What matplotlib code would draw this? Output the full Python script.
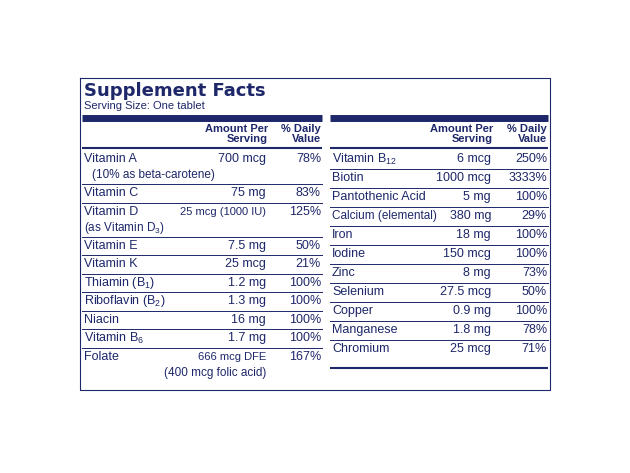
import matplotlib.pyplot as plt

plt.rcParams.update({
    "mathtext.fontset": "custom",
    "mathtext.rm": "Liberation Sans",
    "mathtext.it": "Liberation Sans",
    "mathtext.default": "regular",
})

NAVY = "#1d2769"

left_names = ["Vitamin A", "Vitamin C", "Vitamin D", "Vitamin E", "Vitamin K",
              "Thiamin (B$_1$)", "Riboflavin (B$_2$)", "Niacin", "Vitamin B$_6$", "Folate"]
left_sub = ["(10% as beta-carotene)", "", "(as Vitamin D$_3$)", "", "", "", "", "", "", ""]
left_amount = ["700 mcg", "75 mg", "25 mcg (1000 IU)", "7.5 mg", "25 mcg",
               "1.2 mg", "1.3 mg", "16 mg", "1.7 mg", "666 mcg DFE"]
left_amount_sub = ["", "", "", "", "", "", "", "", "", "(400 mcg folic acid)"]
left_dv = ["78%", "83%", "125%", "50%", "21%", "100%", "100%", "100%", "100%", "167%"]

right_names = ["Vitamin B$_{12}$", "Biotin", "Pantothenic Acid", "Calcium (elemental)", "Iron",
               "Iodine", "Zinc", "Selenium", "Copper", "Manganese", "Chromium"]
right_amount = ["6 mcg", "1000 mcg", "5 mg", "380 mg", "18 mg", "150 mcg",
                "8 mg", "27.5 mcg", "0.9 mg", "1.8 mg", "25 mcg"]
right_dv = ["250%", "3333%", "100%", "29%", "100%", "100%", "73%", "50%", "100%", "78%", "71%"]

fig = plt.figure(figsize=(6.3, 4.73), dpi=100)
ax = fig.add_axes([0, 0, 1, 1])
ax.set_xlim(0, 630)
ax.set_ylim(473, 0)
ax.axis("off")

fs = 9
font = "Liberation Sans"

# outer box
ax.plot([80, 550, 550, 80, 80], [78, 78, 390, 390, 78], color=NAVY, lw=0.8)
ax.text(84, 91, "Supplement Facts", color=NAVY, fontsize=13, fontweight="heavy",
        va="center", family="DejaVu Sans")
ax.text(84, 106, "Serving Size: One tablet", color=NAVY, fontsize=8, va="center", family=font)

def header(x0, x1, xa, xd):
    ax.plot([x0, x1], [118, 118], color=NAVY, lw=5, solid_capstyle="butt")
    ax.plot([x0, x1], [148, 148], color=NAVY, lw=1.5, solid_capstyle="butt")
    for y, a, d in [(129, "Amount Per", "% Daily"), (139, "Serving", "Value")]:
        ax.text(xa, y, a, color=NAVY, fontsize=8, fontweight="bold", ha="right", va="center", family=font)
        ax.text(xd, y, d, color=NAVY, fontsize=8, fontweight="bold", ha="right", va="center", family=font)

header(82, 322, 268, 321)
header(330, 548, 493, 547)

# left column
y = 150
for i, name in enumerate(left_names):
    two = bool(left_sub[i] or left_amount_sub[i])
    h = 34 if two else 18.5
    yc = y + 9
    ax.text(84, yc, name, color=NAVY, fontsize=fs, va="center", family=font)
    ax.text(266, yc, left_amount[i], color=NAVY, fontsize=fs - 1 if len(left_amount[i]) > 10 else fs,
            ha="right", va="center", family=font)
    ax.text(321, yc, left_dv[i], color=NAVY, fontsize=fs, ha="right", va="center", family=font)
    if left_sub[i]:
        ax.text(84 if "D" in left_sub[i] else 92, yc + 16, left_sub[i], color=NAVY,
                fontsize=fs - 0.5, va="center", family=font)
    if left_amount_sub[i]:
        ax.text(266, yc + 16, left_amount_sub[i], color=NAVY, fontsize=fs - 0.5,
                ha="right", va="center", family=font)
    y += h
    if i < len(left_names) - 1:
        ax.plot([82, 322], [y, y], color=NAVY, lw=0.7)

# right column
y = 150
for i, name in enumerate(right_names):
    yc = y + 9
    ax.text(332, yc, name, color=NAVY, fontsize=fs - 0.5 if len(name) > 16 else fs,
            va="center", family=font)
    ax.text(491, yc, right_amount[i], color=NAVY, fontsize=fs, ha="right", va="center", family=font)
    ax.text(547, yc, right_dv[i], color=NAVY, fontsize=fs, ha="right", va="center", family=font)
    y += 19
    if i < len(right_names) - 1:
        ax.plot([330, 548], [y, y], color=NAVY, lw=0.7)
ax.plot([330, 548], [368, 368], color=NAVY, lw=1.5, solid_capstyle="butt")

fig.savefig("out.png", dpi=100)
